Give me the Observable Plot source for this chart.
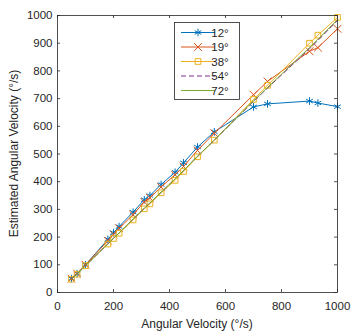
<!DOCTYPE html>
<html><head><meta charset="utf-8">
<script src="https://cdn.jsdelivr.net/npm/d3@7"></script>
<script src="https://cdn.jsdelivr.net/npm/@observablehq/plot@0.6"></script>
<style>
body{margin:0;background:#fff;}
#chart{position:relative;width:359px;height:336px;}
svg{font-family:"Liberation Sans",Arial,sans-serif;}
</style></head>
<body><div id="chart"></div>
<script>
const velocity = [50,70,100,180,200,220,270,310,330,370,420,450,500,560,700,750,900,930,1000];
const est12 = [50,68,100,192,216,238,290,335,350,390,434,468,525,580,670,681,691,684,671];
const est19 = [50,68,100,187,210,232,281,327,342,381,425,455,513,575,714,762,871,884,952];
const est38 = [48,66,97,175,195,214,262,302,320,360,405,437,490,550,697,748,900,929,993];
const est54 = [49,67,97,176,196,215,265,304,323,362,410,440,492,550,690,738,880,910,982];
const est72 = [49,67,97,176,196,215,265,304,323,362,410,440,492,550,692,740,884,914,985];
const seriesNames = ["12°","19°","38°","54°","72°"];
const xTicks = [0,200,400,600,800,1000];
const yTicks = [0,100,200,300,400,500,600,700,800,900,1000];

const colors = ["#0072BD","#D95319","#EDB120","#7E2F8E","#77AC30"];
const symbols = ["asterisk","times","square",null,null];
const dashes = [null,null,null,"5,3",null];
const allSeries = [est12, est19, est38, est54, est72];

const W = 359, H = 336, mL = 57, mR = 22, mT = 15, mB = 44;
const innerH = H - mT - mB, innerW = W - mL - mR;

const marks = [];
allSeries.forEach((s, i) => {
  const data = velocity.map((v, j) => ({x: v, y: s[j]}));
  marks.push(Plot.line(data, {x: "x", y: "y", stroke: colors[i], strokeWidth: 1, strokeDasharray: dashes[i]}));
  if (symbols[i]) marks.push(Plot.dot(data, {x: "x", y: "y", stroke: colors[i], symbol: symbols[i], r: symbols[i]==="square"?3.2:3.6, strokeWidth: 1, fill: "none"}));
});

const axisColor = "#262626";
const chart = Plot.plot({
  width: W, height: H,
  marginLeft: mL, marginRight: mR, marginTop: mT, marginBottom: mB,
  style: {fontFamily: "Liberation Sans, Arial, sans-serif", fontSize: "11px", color: axisColor, background: "#fff"},
  x: {domain: [0, 1000]},
  y: {domain: [0, 1000]},
  marks: [
    Plot.axisX(xTicks, {tickSize: 0, tickPadding: 9, fontSize: 11.5, label: null, fill: axisColor, tickFormat: d => String(d)}),
    Plot.axisY(yTicks, {tickSize: 0, tickPadding: 5, fontSize: 11.5, label: null, fill: axisColor, tickFormat: d => String(d)}),
    Plot.tickX(xTicks, {x: d => d, insetTop: innerH - 3, stroke: axisColor, strokeWidth: 0.8}),
    Plot.tickX(xTicks, {x: d => d, insetBottom: innerH - 3, stroke: axisColor, strokeWidth: 0.8}),
    Plot.tickY(yTicks, {y: d => d, insetRight: innerW - 3, stroke: axisColor, strokeWidth: 0.8}),
    Plot.tickY(yTicks, {y: d => d, insetLeft: innerW - 3, stroke: axisColor, strokeWidth: 0.8}),
    ...marks,
    Plot.frame({stroke: axisColor, strokeWidth: 0.8})
  ]
});
document.getElementById("chart").appendChild(chart);

const svg = d3.select(chart);
// axis titles
svg.append("text").attr("x", mL + innerW/2).attr("y", H - 8).attr("text-anchor","middle")
  .attr("font-size", 12).attr("fill", axisColor).text("Angular Velocity (°/s)");
svg.append("text").attr("transform", `translate(18,${mT + innerH/2}) rotate(-90)`).attr("text-anchor","middle")
  .attr("font-size", 12).attr("fill", axisColor).text("Estimated Angular Velocity (°/s)");

// legend
const lg = svg.append("g");
lg.append("rect").attr("x", 174.5).attr("y", 22.5).attr("width", 65).attr("height", 77)
  .attr("fill", "#fff").attr("stroke", axisColor).attr("stroke-width", 0.8);
const symMap = {asterisk: d3.symbolAsterisk, times: d3.symbolTimes, square: d3.symbolSquare};
seriesNames.forEach((name, i) => {
  const yy = 32.5 + i * 14.5;
  lg.append("line").attr("x1", 181).attr("x2", 215).attr("y1", yy).attr("y2", yy)
    .attr("stroke", colors[i]).attr("stroke-width", 1).attr("stroke-dasharray", dashes[i]);
  if (symbols[i]) {
    const r = symbols[i]==="square"?3.2:3.6;
    lg.append("path").attr("transform", `translate(198,${yy})`)
      .attr("d", d3.symbol(symMap[symbols[i]], r*r*Math.PI)())
      .attr("fill","none").attr("stroke", colors[i]).attr("stroke-width", 1);
  }
  lg.append("text").attr("x", 220).attr("y", yy).attr("dy","0.35em").attr("font-size", 11.5)
    .attr("fill", axisColor).text(name);
});
</script></body></html>
